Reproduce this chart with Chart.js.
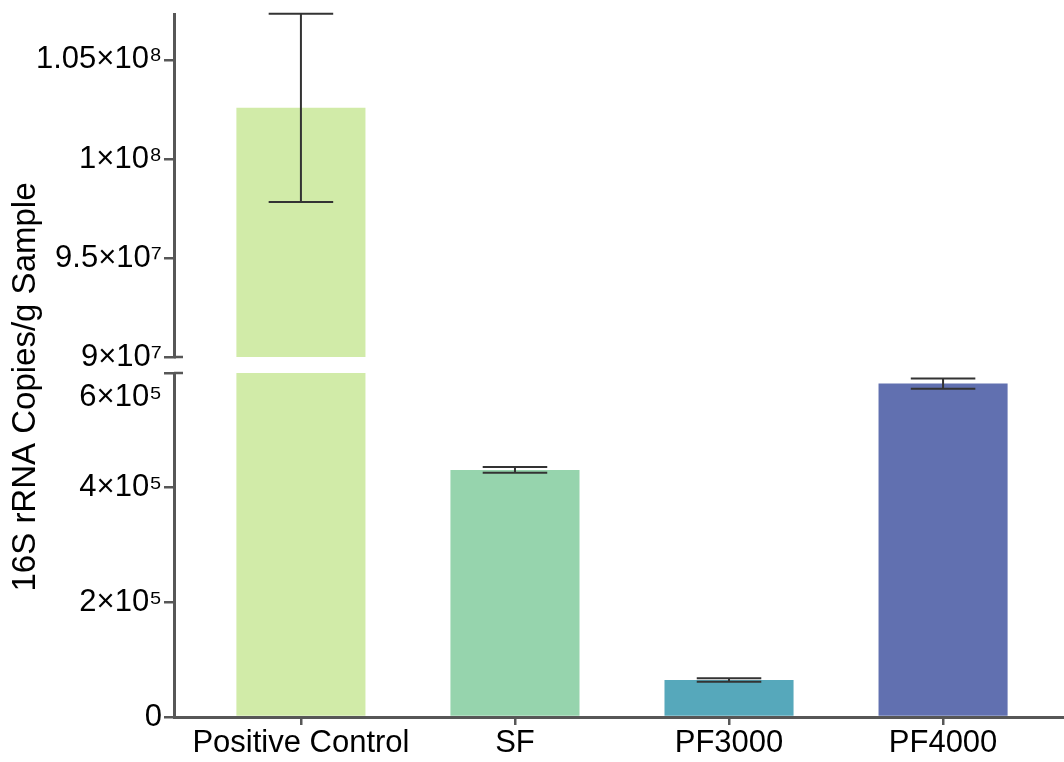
<!DOCTYPE html>
<html>
<head>
<meta charset="utf-8">
<script src="https://cdn.jsdelivr.net/npm/chart.js@4.4.1/dist/chart.umd.min.js"></script>
<style>
  html, body { margin: 0; padding: 0; background: #fff; }
  #wrap { width: 1064px; height: 762px; }
</style>
</head>
<body>
<div id="wrap"><canvas id="chart"></canvas></div>
<script>
// bar data (16S rRNA copies per g sample, mean and error)
var groups = ['Positive Control', 'SF', 'PF3000', 'PF4000'];
var copies = [1.0258e8, 4.31e5, 6.45e4, 5.815e5];
var errors = [4.75e6, 5.0e3, 3.2e3, 9.0e3];
var barColors = ['#d1eba8', '#96d4ad', '#56a8bb', '#6170b0'];

// broken y axis: upper and lower segments
var upperRange = [9.0e7, 1.0732e8];
var upperTicks = [9.0e7, 9.5e7, 1.0e8, 1.05e8];
var upperTickLabels = ['9×10⁷', '9.5×10⁷', '1×10⁸', '1.05×10⁸'];
var lowerRange = [0, 6.0e5];
var lowerTicks = [0, 2.0e5, 4.0e5, 6.0e5];
var lowerTickLabels = ['0', '2×10⁵', '4×10⁵', '6×10⁵'];

var yTitle = '16S rRNA Copies/g Sample';

var FONT = "'Liberation Sans', Arial, sans-serif";
var AXIS = '#575757';

function points() {
	return copies.map(function(v, i) { return {x: i, y: v}; });
}

function yScale(range, ticks, labels, weight) {
	return {
		type: 'linear',
		position: 'left',
		stack: 'left',
		stackWeight: weight,
		min: range[0],
		max: range[1],
		afterBuildTicks: function(s) {
			s.ticks = ticks.map(function(t) { return {value: t}; });
		},
		afterFit: function(s) {
			s.width = 174;
			s.paddingTop = 0;
			s.paddingBottom = 0;
		},
		ticks: {
			autoSkip: false,
			padding: 2,
			color: '#000',
			font: {family: FONT, size: 31, lineHeight: 1.55},
			callback: function(v) {
				var lab = labels[ticks.indexOf(v)];
				// top label of the lower segment sits just under the break
				if (v === lowerRange[1] && range === lowerRange) return ['', lab];
				return lab;
			}
		},
		grid: {drawOnChartArea: false, drawTicks: true, tickLength: 10, color: AXIS, lineWidth: 2.5},
		border: {color: AXIS, width: 3}
	};
}

// keep each dataset inside its own axis segment
var splitClip = {
	id: 'splitClip',
	beforeDatasetDraw: function(chart, args) {
		var s = chart.scales[args.meta.yAxisID];
		var a = chart.chartArea;
		chart.ctx.save();
		chart.ctx.beginPath();
		chart.ctx.rect(a.left, s.top, a.right - a.left, s.bottom - s.top);
		chart.ctx.clip();
	},
	afterDatasetDraw: function(chart) {
		chart.ctx.restore();
	}
};

var errorBars = {
	id: 'errorBars',
	afterDatasetsDraw: function(chart) {
		var ctx = chart.ctx;
		var xs = chart.scales.x;
		var a = chart.chartArea;
		var bars = chart.getDatasetMeta(1).data;
		['yUpper', 'yLower'].forEach(function(id) {
			var s = chart.scales[id];
			ctx.save();
			ctx.beginPath();
			ctx.rect(a.left, s.top - 2, a.right - a.left, s.bottom - s.top + 4);
			ctx.clip();
			ctx.strokeStyle = '#333';
			ctx.lineWidth = 2;
			copies.forEach(function(v, i) {
				if (v < s.min || v > s.max) return;
				var cx = xs.getPixelForValue(i);
				var half = bars[i].width / 4;
				var yHi = s.getPixelForValue(v + errors[i]);
				var yLo = s.getPixelForValue(v - errors[i]);
				ctx.beginPath();
				ctx.moveTo(cx, yHi); ctx.lineTo(cx, yLo);
				ctx.moveTo(cx - half, yHi); ctx.lineTo(cx + half, yHi);
				ctx.moveTo(cx - half, yLo); ctx.lineTo(cx + half, yLo);
				ctx.stroke();
			});
			ctx.restore();
		});
	}
};

// little caps on both sides of the axis break, plus the rotated axis title
var breakMarks = {
	id: 'breakMarks',
	afterDraw: function(chart) {
		var ctx = chart.ctx;
		var up = chart.scales.yUpper, lo = chart.scales.yLower;
		var x0 = up.right;
		ctx.save();
		ctx.strokeStyle = AXIS;
		ctx.lineWidth = 2.5;
		ctx.beginPath();
		ctx.moveTo(x0, up.bottom); ctx.lineTo(x0 + 9, up.bottom);
		ctx.moveTo(x0, lo.top); ctx.lineTo(x0 + 9, lo.top);
		ctx.stroke();

		ctx.translate(26, 387);
		ctx.rotate(-Math.PI / 2);
		ctx.font = '33px ' + FONT;
		ctx.fillStyle = '#000';
		ctx.textAlign = 'center';
		ctx.textBaseline = 'middle';
		ctx.fillText(yTitle, 0, 0);
		ctx.restore();
	}
};

new Chart(document.getElementById('chart'), {
	type: 'bar',
	data: {
		datasets: [
			{data: points(), yAxisID: 'yUpper', backgroundColor: barColors, grouped: false, categoryPercentage: 1, barPercentage: 0.603},
			{data: points(), yAxisID: 'yLower', backgroundColor: barColors, grouped: false, categoryPercentage: 1, barPercentage: 0.603}
		]
	},
	options: {
		responsive: true,
		maintainAspectRatio: false,
		animation: false,
		layout: {padding: {top: 14, left: 0, right: 0, bottom: 0}},
		plugins: {legend: {display: false}, tooltip: {enabled: false}},
		scales: {
			x: {
				type: 'linear',
				offset: false,
				min: -0.593,
				max: 3.565,
				afterBuildTicks: function(s) {
					s.ticks = groups.map(function(g, i) { return {value: i}; });
				},
				ticks: {
					autoSkip: false,
					maxRotation: 0,
					padding: 3,
					color: '#000',
					font: {family: FONT, size: 31, lineHeight: 1.0},
					callback: function(v) { return groups[v]; }
				},
				grid: {offset: false, drawOnChartArea: false, drawTicks: true, tickLength: 8, color: AXIS, lineWidth: 2.5},
				border: {color: AXIS, width: 3}
			},
			// stacked left axes are placed bottom-up in this order
			yLower: yScale(lowerRange, lowerTicks, lowerTickLabels, 344),
			yGap: {type: 'linear', position: 'left', stack: 'left', stackWeight: 16, display: false},
			yUpper: yScale(upperRange, upperTicks, upperTickLabels, 343)
		}
	},
	plugins: [splitClip, errorBars, breakMarks]
});
</script>
</body>
</html>
